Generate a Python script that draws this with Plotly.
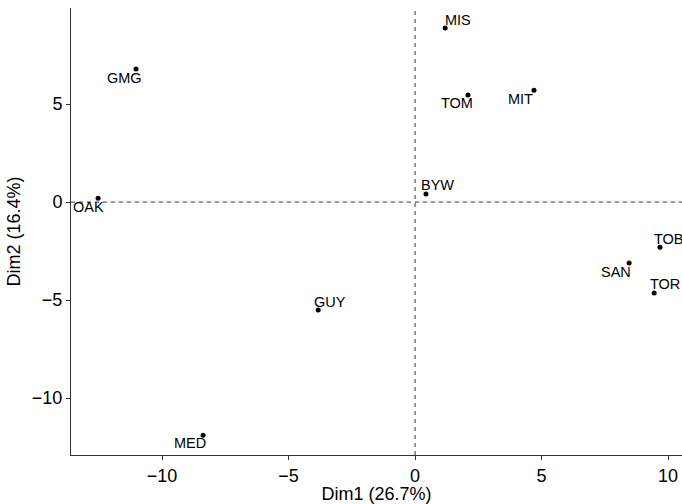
import plotly.graph_objects as go

labels = ["MIS", "TOM", "MIT", "BYW", "GMG", "OAK", "GUY", "MED", "TOB", "SAN", "TOR"]
dim1 = [1.19, 2.09, 4.70, 0.43, -11.03, -12.53, -3.83, -8.38, 9.68, 8.46, 9.45]
dim2 = [8.88, 5.46, 5.71, 0.41, 6.79, 0.20, -5.51, -11.89, -2.30, -3.11, -4.64]
# label offsets in pixels (text placement relative to point)
dx = [13, -11, -13, 12, -12, -10, 12, -13, 9, -13, 11]
dy = [8, -8, -9, 9, -9, -9, 8, -8, 8, -9, 9]

FONT = "Liberation Sans, Arial, sans-serif"

fig = go.Figure()
fig.add_trace(go.Scatter(x=dim1, y=dim2, mode="markers",
                         marker=dict(color="black", size=5), showlegend=False,
                         hoverinfo="text", text=labels, cliponaxis=False))
for lab, x, y, ox, oy in zip(labels, dim1, dim2, dx, dy):
    fig.add_annotation(x=x, y=y, text=lab, showarrow=False, xshift=ox, yshift=oy,
                       font=dict(family=FONT, size=14.5, color="black"))

fig.add_shape(type="line", x0=0, x1=0, y0=0, y1=1, xref="x", yref="paper",
              line=dict(color="#333", width=1, dash="4px,4px"), layer="below")
fig.add_shape(type="line", x0=0, x1=1, y0=0, y1=0, xref="paper", yref="y",
              line=dict(color="#333", width=1, dash="4px,4px"), layer="below")

axis_common = dict(showgrid=False, zeroline=False, showline=True, linecolor="#333",
                   linewidth=1, ticks="outside", ticklen=4, tickcolor="#333",
                   tickfont=dict(family=FONT, size=18, color="black"),
                   title_font=dict(family=FONT, size=18, color="black"))
fig.update_xaxes(range=[-13.6, 10.55], tickvals=[-10, -5, 0, 5, 10],
                 ticktext=["\u221210", "\u22125", "0", "5", "10"],
                 title_text="Dim1 (26.7%)", title_standoff=2, **axis_common)
fig.update_yaxes(range=[-12.9, 9.9], tickvals=[-10, -5, 0, 5],
                 ticktext=["\u221210", "\u22125", "0", "5"],
                 title_text="Dim2 (16.4%)", title_standoff=6, **axis_common)
fig.update_layout(width=682, height=504, margin=dict(l=71, r=0, t=8, b=49),
                  plot_bgcolor="white", paper_bgcolor="white")
fig.write_html("out.html", config={"displayModeBar": False},
               post_script="document.body.style.margin='0';document.body.style.overflow='hidden';")
